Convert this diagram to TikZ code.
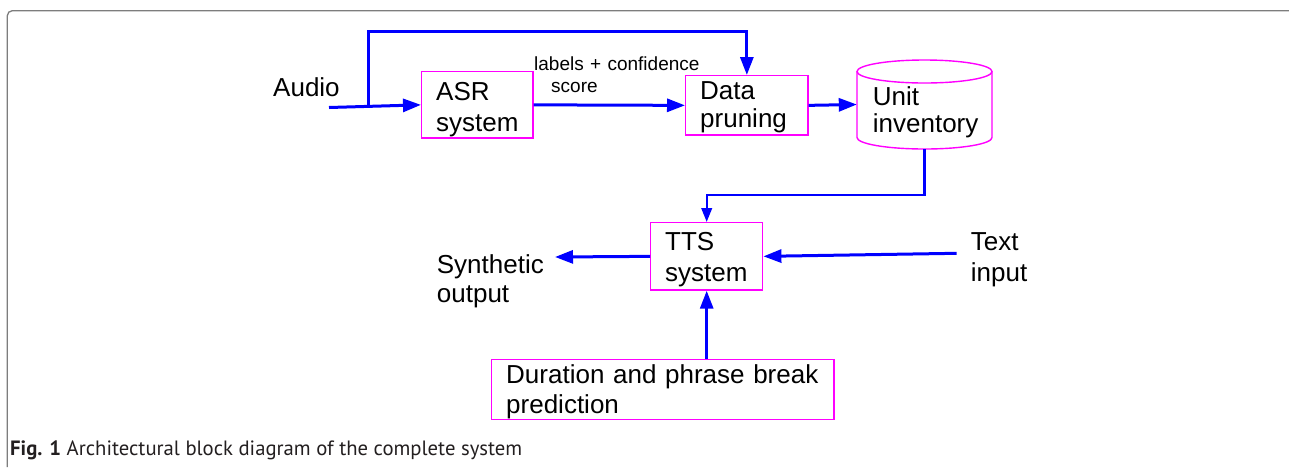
\documentclass[tikz,border=0pt]{standalone}
\usepackage{fontspec}
\setmainfont{Liberation Sans}
\newfontfamily\capfont{PT Sans}
\usetikzlibrary{arrows.meta}
\definecolor{mag}{RGB}{255,0,255}
\definecolor{blu}{RGB}{0,0,255}
\definecolor{framec}{RGB}{125,125,125}
\definecolor{capc}{RGB}{35,31,32}
\begin{document}
\begin{tikzpicture}[x=1pt,y=-1pt,
  box/.style={draw=mag, line width=1.4pt, inner sep=0pt},
  txt/.style={font=\fontsize{26}{#1}\selectfont, inner sep=0pt, anchor=base west, text width=400pt, align=left},
  txt/.default=31,
  arr/.style={draw=blu, line width=3pt, -{Triangle[length=18pt,width=13pt]}},
  arrthin/.style={draw=blu, line width=2.4pt, -{Triangle[length=14pt,width=10.5pt]}}
]
\useasboundingbox (0,0) rectangle (1289,467);
% frame
\draw[framec, line width=1.3pt, rounded corners=5pt] (7.3,467) -- (7.3,10.7) -- (1289,10.7);

% boxes
\node[box, minimum width=111.3pt, minimum height=66.3pt] (asr) at (477.35,104.85) {};
\node[box, minimum width=122.3pt, minimum height=59.3pt] (data) at (746.85,105.35) {};
\node[box, minimum width=112pt, minimum height=67.3pt] (tts) at (706.7,256.35) {};
\node[box, minimum width=342.3pt, minimum height=60pt] (dur) at (662.85,389.3) {};
\node[inner sep=0pt, minimum width=135pt, minimum height=89pt] (cyl) at (924.5,104.5) {};
\draw[mag, line width=1.4pt] (857,71.5) -- (857,137.5) arc[start angle=180, end angle=0, x radius=67.5, y radius=11.5] -- (992,71.5);
\draw[mag, line width=1.4pt] (924.5,71.5) ellipse[x radius=67.5, y radius=11.5];

% texts
\node[txt] (audio) at (273,96) {Audio};
\node[txt] (asrt) at (436,100) {ASR\\system};
\node[txt=27.7] (datat) at (700,99.5) {Data\\pruning};
\node[txt=27.7] (unitt) at (872.7,105) {Unit\\inventory};
\node[txt] (ttst) at (665,250.7) {TTS\\system};
\node[txt=29.5] (synt) at (436.7,273) {Synthetic\\output};
\node[txt=31.7] (textt) at (970.7,250) {Text\\input};
\node[txt=30] (durt) at (506,383.3) {Duration and phrase break\\prediction};
\node[font=\fontsize{19}{22.7}\selectfont, inner sep=0pt, anchor=base west, text width=300pt, align=left] (lbl) at (534,70) {labels + confidence\\\hspace*{17pt}score};

% connectors
\coordinate (ain) at (329,107.5);
\coordinate (br) at (368,106.2);
\coordinate (top) at (368,31);
\coordinate (bend) at (924.5,195);
\coordinate (synth) at (555,257);
\coordinate (tin) at (956.7,253.3);
\draw[arr] (ain) -- (asr.west);
\draw[arr] (br) -- (top) -| (data.north);
\draw[arr] (asr.east) -- (data.west);
\draw[arr] (data.east) -- (cyl.west);
\draw[arrthin] (cyl.south) -- (bend) -| (tts.north);
\draw[arr] (tts.west) -- (synth);
\draw[arr] (tin) -- (tts.east);
\draw[arr] (tts.south |- dur.north) -- (tts.south);

% caption
\node[anchor=base west, inner sep=0pt, font=\capfont\fontsize{20.7}{23}\selectfont, text=capc] (cap) at (10,455.7) {\textbf{Fig. 1} Architectural block diagram of the complete system};
\end{tikzpicture}
\end{document}
